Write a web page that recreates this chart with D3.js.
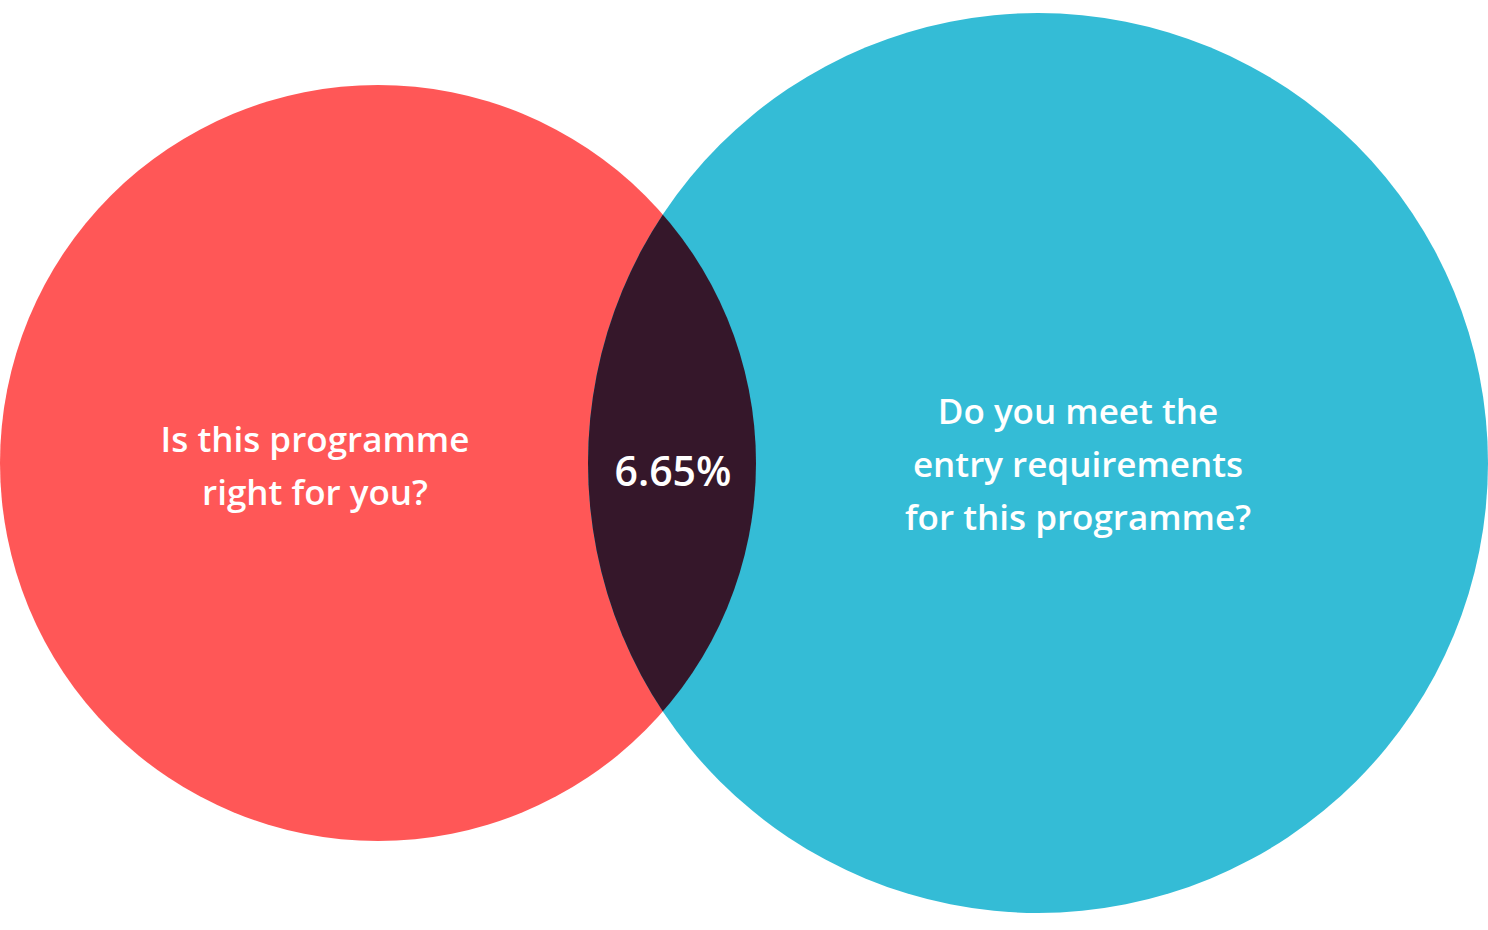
<!DOCTYPE html>
<html><head><meta charset="utf-8">
<script src="https://cdn.jsdelivr.net/npm/d3@7"></script>
<style>body{margin:0;background:#fff}svg{display:block}</style></head>
<body><svg id="c" width="1488" height="930"></svg>
<script>
const setNames = ["A","B"];
const setLabels = [["Is this programme","right for you?"],["Do you meet the","entry requirements","for this programme?"]];
const setCentersX = [378, 1038];
const setRadii = [378, 450];
const overlapLabel = "6.65%";
const colors = ["#ff5757","#34bcd6"];
const overlapColor = "#35172a";

const svg = d3.select("#c");
const x = d3.scaleLinear().domain([0,1488]).range([0,1488]);
const cy = 463;
const defs = svg.append("defs");
defs.append("clipPath").attr("id","clipA").append("circle")
  .attr("cx",x(setCentersX[0])).attr("cy",cy).attr("r",setRadii[0]);
svg.selectAll("circle.set").data(setNames).join("circle").attr("class","set")
  .attr("cx",(d,i)=>x(setCentersX[i])).attr("cy",cy).attr("r",(d,i)=>setRadii[i])
  .attr("fill",(d,i)=>colors[i]);
svg.append("circle").attr("cx",x(setCentersX[1])).attr("cy",cy).attr("r",setRadii[1])
  .attr("fill",overlapColor).attr("clip-path","url(#clipA)");
const font = "'Open Sans', sans-serif";
const lblPos = [[315,[452,505]],[1078,[424,477,530]]];
setLabels.forEach((lines,i)=>{
  lines.forEach((t,j)=>{
    svg.append("text").attr("x",lblPos[i][0]).attr("y",lblPos[i][1][j])
      .attr("text-anchor","middle").attr("fill","#fff").attr("font-family",font)
      .attr("font-weight",600).attr("font-size",35).text(t);
  });
});
svg.append("text").attr("x",673).attr("y",486).attr("text-anchor","middle")
  .attr("fill","#fff").attr("font-family",font).attr("font-weight",600)
  .attr("font-size",41).text(overlapLabel);
</script></body></html>
